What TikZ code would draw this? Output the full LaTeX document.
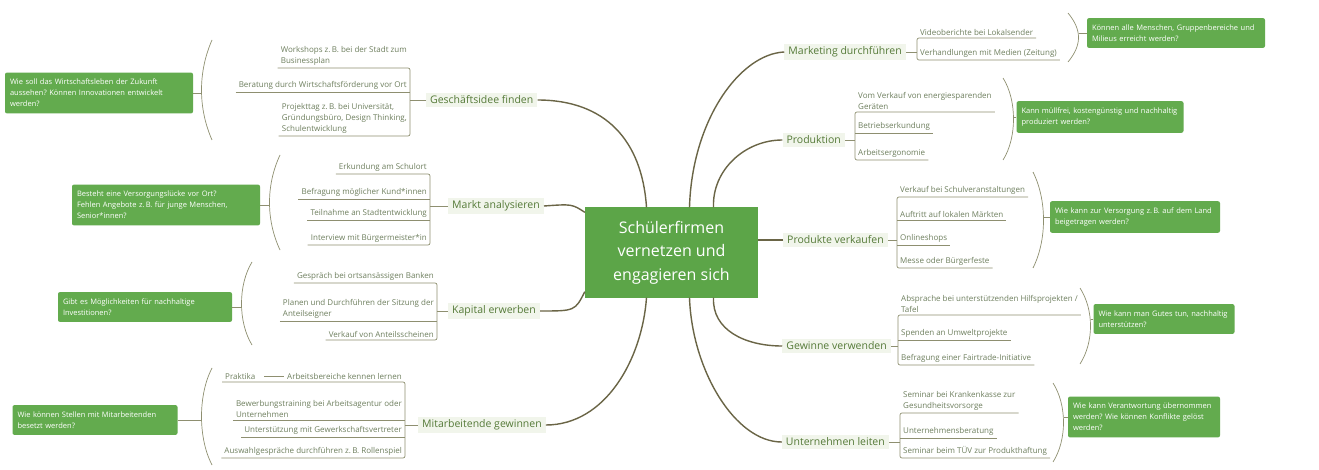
\documentclass[tikz,border=0pt]{standalone}
\usepackage{fontspec}
\setmainfont{Open Sans}
\definecolor{askgreen}{HTML}{63AB4E}
\definecolor{hubgreen}{HTML}{5CA548}
\definecolor{labelink}{HTML}{557A38}
\definecolor{leafink}{HTML}{6E7F5E}
\definecolor{twigline}{HTML}{8E8F70}
\definecolor{stemline}{HTML}{6A6546}
\definecolor{labelglow}{HTML}{F1F5EB}

\begin{document}
\frenchspacing
\begin{tikzpicture}[
    x=1pt, y=-1pt,
    hub/.style={
        fill=hubgreen,
        text=white,
        minimum width=173pt,
        minimum height=90pt,
        align=center,
        font=\fontsize{16}{23.5}\selectfont,
    },
    branch/.style={
        fill=labelglow,
        text=labelink,
        inner xsep=4pt,
        inner ysep=3pt,
        font=\fontsize{10.5}{12}\selectfont,
    },
    leafl/.style={
        anchor=south east,
        text=leafink,
        inner xsep=3pt,
        inner ysep=2pt,
        align=left,
        font=\fontsize{8}{11}\selectfont,
    },
    leafr/.style={leafl, anchor=south west},
    ask/.style={
        fill=askgreen,
        text=white,
        rounded corners=2pt,
        align=left,
        inner xsep=5pt,
        inner ysep=6.5pt,
        font=\fontsize{7.5}{11}\selectfont,
    },
    twig/.style={draw=twigline, line width=0.7pt},
    paren/.style={draw=twigline, line width=0.7pt},
    stem/.style={draw=stemline, line width=1.4pt},
]

\useasboundingbox[fill=white] (0,0) rectangle (1319,470);

% centre
\node[hub] (c) at (671.5,252.5) {Schülerfirmen\\vernetzen und\\engagieren sich};

% left: Geschaeftsidee
\node[branch, anchor=west] (g1) at (426,100) {Geschäftsidee finden};
\node[leafl] (g1a) at (410,68) {Workshops z.\,B. bei der Stadt zum\\Businessplan};
\node[leafl] (g1b) at (410,92) {Beratung durch Wirtschaftsförderung vor Ort};
\node[leafl] (g1c) at (410,136) {Projekttag z.\,B. bei Universität,\\Gründungsbüro, Design Thinking,\\Schulentwicklung};
\draw[twig, rounded corners=2pt] (g1a.south west) -- (g1a.south east) -- (g1c.south east) -- (g1c.south west);
\draw[twig] (g1b.south west) -- (g1b.south east);
\draw[twig] (g1.west) -- (g1.west -| g1a.south east);
\draw[paren] (212,40) .. controls (198,72) and (198,108) .. (212,140);
\coordinate (pg1) at (201.5,92);
\node[ask, text width=178pt] (qg1) at (99,93) {Wie soll das Wirtschaftsleben der Zukunft\\aussehen? Können Innovationen entwickelt\\werden?};
\draw[twig] (qg1.east) -- (qg1.east -| pg1);

% left: Markt
\node[branch, anchor=west] (g2) at (448,206) {Markt analysieren};
\node[leafl] (g2a) at (430,174) {Erkundung am Schulort};
\node[leafl] (g2b) at (430,199) {Befragung möglicher Kund*innen};
\node[leafl] (g2c) at (430,220) {Teilnahme an Stadtentwicklung};
\node[leafl] (g2d) at (430,245) {Interview mit Bürgermeister*in};
\draw[twig, rounded corners=2pt] (g2a.south west) -- (g2a.south east) -- (g2d.south east) -- (g2d.south west);
\draw[twig] (g2b.south west) -- (g2b.south east);
\draw[twig] (g2c.south west) -- (g2c.south east);
\draw[twig] (g2.west) -- (g2.west -| g2a.south east);
\draw[paren] (280,155) .. controls (266,185) and (266,220) .. (280,250);
\coordinate (pg2) at (269.5,202);
\node[ask, text width=178pt] (qg2) at (166,205) {Besteht eine Versorgungslücke vor Ort?\\Fehlen Angebote z.\,B. für junge Menschen,\\Senior*innen?};
\draw[twig] (qg2.east) -- (qg2.east -| pg2);

% left: Kapital
\node[branch, anchor=west] (g3) at (448,311) {Kapital erwerben};
\node[leafl] (g3a) at (437,283) {Gespräch bei ortsansässigen Banken};
\node[leafl] (g3b) at (437,321) {Planen und Durchführen der Sitzung der\\Anteilseigner};
\node[leafl] (g3c) at (437,340) {Verkauf von Anteilsscheinen};
\draw[twig, rounded corners=2pt] (g3a.south west) -- (g3a.south east) -- (g3c.south east) -- (g3c.south west);
\draw[twig] (g3b.south west) -- (g3b.south east);
\draw[twig] (g3.west) -- (g3.west -| g3a.south east);
\draw[paren] (252,262) .. controls (238,285) and (238,322) .. (252,345);
\coordinate (pg3) at (241.5,303);
\node[ask, text width=164pt] (qg3) at (145,307) {Gibt es Möglichkeiten für nachhaltige\\Investitionen?};
\draw[twig] (qg3.east) -- (qg3.east -| pg3);

% left: Mitarbeitende
\node[branch, anchor=west] (g4) at (418,425) {Mitarbeitende gewinnen};
\node[leafl] (g4a) at (405,382) {Arbeitsbereiche kennen lernen};
\node[leafl, anchor=south west] (g4p) at (222,382) {Praktika};
\node[leafl] (g4b) at (405,420) {Bewerbungstraining bei Arbeitsagentur oder\\Unternehmen};
\node[leafl] (g4c) at (405,437) {Unterstützung mit Gewerkschaftsvertreter};
\node[leafl] (g4d) at (405,458) {Auswahlgespräche durchführen z.\,B. Rollenspiel};
\draw[twig, rounded corners=2pt] (g4p.south west) -- (g4a.south east) -- (g4d.south east) -- (g4d.south west);
\draw[twig] (g4b.south west) -- (g4b.south east);
\draw[twig] (g4c.south west) -- (g4c.south east);
\draw[twig] ([xshift=6pt]g4p.east) -- (g4a.west);
\draw[twig] (g4.west) -- (g4.west -| g4a.south east);
\draw[paren] (212,368) .. controls (198,395) and (198,438) .. (212,465);
\coordinate (pg4) at (201.5,416);
\node[ask, text width=155pt] (qg4) at (95,420) {Wie können Stellen mit Mitarbeitenden\\besetzt werden?};
\draw[twig] (qg4.east) -- (qg4.east -| pg4);

% right: Marketing
\node[branch, anchor=east] (r1) at (906,52) {Marketing durchführen};
\node[leafr] (r1a) at (917,38) {Videoberichte bei Lokalsender};
\node[leafr] (r1b) at (917,60) {Verhandlungen mit Medien (Zeitung)};
\draw[twig, rounded corners=2pt] (r1a.south east) -- (r1a.south west) -- (r1b.south west) -- (r1b.south east);
\draw[twig] (r1.east) -- (r1.east -| r1a.south west);
\draw[paren] (1068,13) .. controls (1082,30) and (1082,45) .. (1068,62);
\coordinate (pr1) at (1078.5,35);
\node[ask, text width=168pt] (qr1) at (1176,33) {Können alle Menschen, Gruppenbereiche und\\Milieus erreicht werden?};
\draw[twig] (qr1.west) -- (qr1.west -| pr1);

% right: Produktion
\node[branch, anchor=east] (r2) at (845,140) {Produktion};
\node[leafr] (r2a) at (855,112) {Vom Verkauf von energiesparenden\\Geräten};
\node[leafr] (r2b) at (855,133) {Betriebserkundung};
\node[leafr] (r2c) at (855,160) {Arbeitsergonomie};
\draw[twig, rounded corners=2pt] (r2a.south east) -- (r2a.south west) -- (r2c.south west) -- (r2c.south east);
\draw[twig] (r2b.south west) -- (r2b.south east);
\draw[twig] (r2.east) -- (r2.east -| r2a.south west);
\draw[paren] (1003,78) .. controls (1017,100) and (1017,138) .. (1003,160);
\coordinate (pr2) at (1013.5,119);
\node[ask, text width=157pt] (qr2) at (1100,117) {Kann müllfrei, kostengünstig und nachhaltig\\produziert werden?};
\draw[twig] (qr2.west) -- (qr2.west -| pr2);

% right: Produkte
\node[branch, anchor=east] (r3) at (888,240) {Produkte verkaufen};
\node[leafr] (r3a) at (897,197) {Verkauf bei Schulveranstaltungen};
\node[leafr] (r3b) at (897,220) {Auftritt auf lokalen Märkten};
\node[leafr] (r3c) at (897,245) {Onlineshops};
\node[leafr] (r3d) at (897,268) {Messe oder Bürgerfeste};
\draw[twig, rounded corners=2pt] (r3a.south east) -- (r3a.south west) -- (r3d.south west) -- (r3d.south east);
\draw[twig] (r3b.south west) -- (r3b.south east);
\draw[twig] (r3c.south west) -- (r3c.south east);
\draw[twig] (r3.east) -- (r3.east -| r3a.south west);
\draw[paren] (1033,172) .. controls (1047,200) and (1047,240) .. (1033,268);
\coordinate (pr3) at (1043.5,220);
\node[ask, text width=160pt] (qr3) at (1135,217) {Wie kann zur Versorgung z.\,B. auf dem Land\\beigetragen werden?};
\draw[twig] (qr3.west) -- (qr3.west -| pr3);

% right: Gewinne
\node[branch, anchor=east] (r4) at (891,346) {Gewinne verwenden};
\node[leafr] (r4a) at (898,315) {Absprache bei unterstützenden Hilfsprojekten /\\Tafel};
\node[leafr] (r4b) at (898,340) {Spenden an Umweltprojekte};
\node[leafr] (r4c) at (898,365) {Befragung einer Fairtrade-Initiative};
\draw[twig, rounded corners=2pt] (r4a.south east) -- (r4a.south west) -- (r4c.south west) -- (r4c.south east);
\draw[twig] (r4b.south west) -- (r4b.south east);
\draw[twig] (r4.east) -- (r4.east -| r4a.south west);
\draw[paren] (1080,288) .. controls (1094,310) and (1094,342) .. (1080,364);
\coordinate (pr4) at (1090.5,326);
\node[ask, text width=131pt] (qr4) at (1164,319) {Wie kann man Gutes tun, nachhaltig\\unterstützen?};
\draw[twig] (qr4.west) -- (qr4.west -| pr4);

% right: Unternehmen
\node[branch, anchor=east] (r5) at (889,442) {Unternehmen leiten};
\node[leafr] (r5a) at (900,413) {Seminar bei Krankenkasse zur\\Gesundheitsvorsorge};
\node[leafr] (r5b) at (900,438) {Unternehmensberatung};
\node[leafr] (r5c) at (900,458) {Seminar beim TÜV zur Produkthaftung};
\draw[twig, rounded corners=2pt] (r5a.south east) -- (r5a.south west) -- (r5c.south west) -- (r5c.south east);
\draw[twig] (r5b.south west) -- (r5b.south east);
\draw[twig] (r5.east) -- (r5.east -| r5a.south west);
\draw[paren] (1053,383) .. controls (1067,405) and (1067,440) .. (1053,462);
\coordinate (pr5) at (1063.5,422);
\node[ask, text width=142pt] (qr5) at (1144,417) {Wie kann Verantwortung übernommen\\werden? Wie können Konflikte gelöst\\werden?};
\draw[twig] (qr5.west) -- (qr5.west -| pr5);

% stems
\draw[stem] (g1.east) .. controls (605,100) and (642,140) .. ([xshift=-25pt]c.north);
\draw[stem] (g2.east) .. controls (572,204) .. ([yshift=-5pt]c.north west);
\draw[stem] (g3.east) .. controls (575,311) .. ([yshift=6pt]c.south west);
\draw[stem] (g4.east) .. controls (605,425) and (642,360) .. ([xshift=-25pt]c.south);
\draw[stem] (r1.west) .. controls (740,54) and (692,120) .. ([xshift=18pt]c.north);
\draw[stem] (r2.west) .. controls (745,140) and (712,170) .. ([xshift=42pt]c.north);
\draw[stem] (r3.west) -- (r3.west -| c.east);
\draw[stem] (r4.west) .. controls (745,346) and (712,330) .. ([xshift=42pt]c.south);
\draw[stem] (r5.west) .. controls (735,442) and (692,370) .. ([xshift=18pt]c.south);

\end{tikzpicture}
\end{document}
